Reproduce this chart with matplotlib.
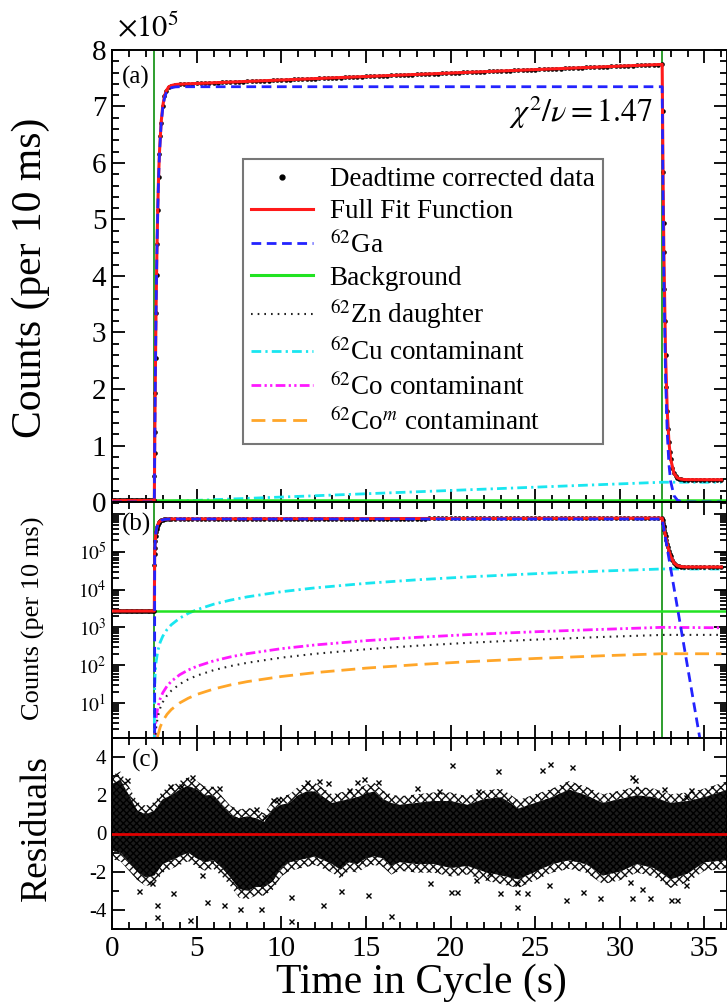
import numpy as np
import matplotlib
matplotlib.use("Agg")
import matplotlib.pyplot as plt
from matplotlib.lines import Line2D
from matplotlib.ticker import MultipleLocator, FixedLocator, FuncFormatter, LogLocator, NullFormatter

plt.rcParams["font.family"] = ["Liberation Serif", "DejaVu Serif"]
plt.rcParams["mathtext.fontset"] = "stix"
plt.rcParams["axes.unicode_minus"] = False
plt.rcParams["lines.scale_dashes"] = False
plt.rcParams["hatch.linewidth"] = 1.0

# ---------------- fit components (counts per 10 ms) ----------------
t_fit = [0, 2.5, 2.52, 2.55, 2.6, 2.65, 2.7, 2.75, 2.8, 2.9, 3.0, 3.1, 3.2, 3.35, 3.5, 3.75, 4.0,
         6, 10, 15, 20, 25, 32.5, 32.55, 32.6, 32.7, 32.8, 32.9, 33.0, 33.2, 33.4, 33.6, 33.8,
         34.0, 34.5, 35, 36]
fit_total = [2.7e3, 2.7e3, 8.59e4, 1.933e5, 3.347e5, 4.391e5, 5.164e5, 5.745e5, 6.168e5, 6.710e5,
             7.012e5, 7.183e5, 7.276e5, 7.347e5, 7.371e5, 7.389e5, 7.395e5, 7.420e5, 7.469e5,
             7.531e5, 7.592e5, 7.653e5, 7.745e5, 5.841e5, 4.430e5, 2.607e5, 1.608e5, 1.062e5,
             7.61e4, 5.05e4, 4.28e4, 4.05e4, 3.98e4, 3.96e4, 3.95e4, 3.945e4, 3.94e4]
ga62 = [0, 0, 8.32e4, 1.905e5, 3.319e5, 4.362e5, 5.134e5, 5.715e5, 6.137e5, 6.678e5, 6.979e5,
        7.149e5, 7.240e5, 7.310e5, 7.332e5, 7.347e5, 7.35e5, 7.35e5, 7.35e5, 7.35e5, 7.35e5,
        7.35e5, 7.35e5, 5.446e5, 4.035e5, 2.212e5, 1.213e5, 6.67e4, 3.66e4, 1.10e4, 3.32e3,
        1.00e3, 301, 90.6, 4.5, 0.225, 0.0005]

background = 2.7e3

t_comp = [0, 2.5, 2.5005, 2.502, 2.505, 2.51, 2.52, 2.55, 2.6, 2.7, 2.85, 3.0, 3.25, 3.5, 4.0,
          4.5, 5, 6, 7, 8, 10, 12, 15, 18, 21, 25, 29, 32.5, 33, 34, 35, 36]
cu62 = [0, 0, 0.58, 2.33, 5.8, 11.7, 23.3, 58, 117, 233, 408, 583, 875, 1167, 1750, 2333, 2917,
        4083, 5250, 6417, 8750, 11083, 14583, 18083, 21583, 26250, 30917, 35000, 34990, 34970,
        34950, 34930]
zn62 = [0, 0, 0.0105, 0.042, 0.105, 0.21, 0.42, 1.05, 2.1, 4.2, 7.35, 10.5, 15.75, 21, 31.5, 42,
        52.5, 73.5, 94.5, 115.5, 157.5, 199.5, 262.5, 325.5, 388.5, 472.5, 556.5, 630, 630.5,
        631, 631, 631]
co62 = [0, 0, 0.0187, 0.0746, 0.187, 0.373, 0.746, 1.87, 3.73, 7.46, 13.0, 18.6, 27.9, 37.2, 55.7,
        74.2, 92.6, 129.2, 165.5, 201.5, 272.5, 342, 444, 543, 640, 764, 885, 1000, 996, 989,
        981, 974]
co62m = [0, 0, 0.0033, 0.0133, 0.033, 0.067, 0.133, 0.333, 0.667, 1.33, 2.33, 3.33, 5.0, 6.67,
         10.0, 13.3, 16.7, 23.3, 30.0, 36.7, 50.0, 63.3, 83.3, 103, 123, 150, 177, 200, 200,
         199.9, 199.8, 199.7]

beam_on, beam_off = 2.5, 32.5

# ---------------- deadtime corrected data ----------------
t_pre = np.round(np.arange(0.0, 2.45, 0.1), 2)
v_pre = [2700, 2700, 2690, 2710, 2700, 2700, 2710, 2690, 2700, 2700, 2700, 2710, 2700, 2690,
         2700, 2700, 2710, 2700, 2700, 2690, 2700, 2710, 2700, 2700, 2700]
t_rise = [2.5, 2.51, 2.52, 2.53, 2.55, 2.57, 2.6, 2.63, 2.66, 2.7, 2.75, 2.8, 2.85, 2.9, 3.0,
          3.1, 3.2, 3.35, 3.5, 3.75]
v_rise = [2.7e3, 4.55e4, 8.59e4, 1.238e5, 1.933e5, 2.549e5, 3.347e5, 4.01e5, 4.565e5, 5.164e5,
          5.745e5, 6.168e5, 6.481e5, 6.710e5, 7.012e5, 7.183e5, 7.276e5, 7.347e5, 7.371e5,
          7.389e5]
t_plat = np.round(np.arange(4.0, 32.51, 0.25), 2)
v_plat_k = [739.6, 739.9, 740.2, 740.5, 740.8, 741.1, 741.4, 741.7, 742.1, 742.4, 742.7, 743.0,
            743.3, 743.6, 743.9, 744.2, 744.5, 744.8, 745.1, 745.4, 745.7, 746.0, 746.4, 746.7,
            747.0, 747.3, 747.6, 747.9, 748.2, 748.5, 748.8, 749.1, 749.4, 749.7, 750.0, 750.3,
            750.7, 751.0, 751.3, 751.6, 751.9, 752.2, 752.5, 752.8, 753.1, 753.4, 753.7, 754.0,
            754.3, 754.6, 755.0, 755.3, 755.6, 755.9, 756.2, 756.5, 756.8, 757.1, 757.4, 757.7,
            758.0, 758.3, 758.6, 758.9, 759.2, 759.6, 759.9, 760.2, 760.5, 760.8, 761.1, 761.4,
            761.7, 762.0, 762.3, 762.6, 762.9, 763.2, 763.5, 763.9, 764.2, 764.5, 764.8, 765.1,
            765.4, 765.7, 766.0, 766.3, 766.6, 766.9, 767.2, 767.5, 767.8, 768.2, 768.5, 768.8,
            769.1, 769.4, 769.7, 770.0, 770.3, 770.6, 770.9, 771.2, 771.5, 771.8, 772.1, 772.5,
            772.8, 773.1, 773.4, 773.7, 774.0, 774.3, 774.6]
t_fall = [32.52, 32.55, 32.58, 32.6, 32.63, 32.66, 32.7, 32.75, 32.8, 32.85, 32.9, 32.95, 33.0,
          33.1, 33.2, 33.3, 33.4, 33.5, 33.6, 33.8, 34.0, 34.25, 34.5, 34.75, 35.0, 35.25, 35.5,
          35.75, 36.0]
v_fall = [6.914e5, 5.841e5, 4.943e5, 4.430e5, 3.764e5, 3.209e5, 2.607e5, 2.035e5, 1.608e5,
          1.295e5, 1.062e5, 8.89e4, 7.61e4, 5.96e4, 5.05e4, 4.56e4, 4.28e4, 4.13e4, 4.05e4,
          3.98e4, 3.96e4, 3.95e4, 3.95e4, 3.948e4, 3.945e4, 3.943e4, 3.942e4, 3.94e4, 3.94e4]

data_t = np.concatenate([t_pre, t_rise, t_plat, t_fall])
data_v = np.concatenate([v_pre, v_rise, np.array(v_plat_k) * 1e3, v_fall])

# ---------------- residuals ----------------
# dense core of the residual scatter (lower / upper edge) and isolated points
res_t = [0, 0.5, 1, 1.5, 2, 2.5, 3, 3.5, 4, 4.5, 5, 5.5, 6, 6.5, 7, 7.5, 8, 8.5, 9, 9.5, 10,
         10.5, 11, 11.5, 12, 12.5, 13, 13.5, 14, 14.5, 15, 15.5, 16, 16.5, 17, 18, 19, 20, 21,
         22, 23, 24, 25, 26, 27, 28, 29, 30, 31, 32, 33, 34, 35, 36.4]
res_upper = [2.6, 2.8, 2.0, 1.2, 1.0, 1.2, 1.8, 2.0, 2.3, 2.5, 2.3, 2.0, 2.0, 1.5, 1.0, 0.8, 0.9,
             0.8, 0.6, 1.3, 1.5, 1.6, 2.0, 2.2, 2.2, 1.9, 1.6, 1.7, 1.8, 1.9, 2.1, 2.2, 1.8, 1.6,
             1.5, 1.6, 1.7, 1.7, 1.5, 1.8, 1.9, 1.3, 1.6, 1.9, 2.3, 2.0, 1.6, 1.8, 2.0, 1.9, 1.6,
             1.7, 1.9, 2.3]
res_lower = [-0.9, -1.0, -1.5, -2.0, -2.3, -2.2, -1.6, -1.4, -1.2, -1.0, -1.3, -1.5, -1.4, -1.8,
             -2.3, -2.9, -3.0, -2.8, -2.8, -2.5, -1.8, -1.5, -1.4, -1.3, -1.2, -1.4, -1.6, -1.9,
             -1.5, -1.6, -1.3, -1.2, -1.3, -1.7, -1.5, -1.6, -1.6, -1.8, -1.7, -2.0, -2.2, -2.4,
             -2.0, -1.6, -1.4, -1.6, -2.2, -2.0, -1.6, -1.8, -2.4, -2.1, -1.5, -1.4]
out_t = [0.9, 1.57, 2.35, 2.65, 2.65, 3.4, 3.6, 4.1, 4.6, 4.75, 5.3, 5.6, 6.3, 6.6, 7.55, 8.5,
         8.8, 9.0, 9.5, 9.8, 10.6, 10.6, 11.5, 12.25, 12.45, 12.75, 13.5, 14.0, 14.5, 14.9, 15.1,
         15.7, 16.5, 18.0, 18.8, 19.3, 20.0, 20.1, 20.4, 21.5, 21.6, 22.3, 22.8, 22.9, 23.9, 23.9,
         23.9, 24.5, 25.4, 25.8, 25.9, 26.8, 27.2, 27.8, 28.8, 30.6, 30.7, 30.7, 30.9, 31.3, 31.8,
         32.6, 33.0, 33.4, 33.9, 33.9, 34.2]
out_r = [2.8, -3.0, -2.57, -3.74, -4.35, 2.5, -3.1, 2.5, -4.55, 2.95, -2.17, -3.57, 2.4, -3.74,
         -3.97, 1.3, -3.97, 0.87, 1.77, 1.83, -3.3, -4.57, 2.7, 2.73, -3.74, 2.64, -3.0, 2.3, 2.7,
         2.87, -3.2, 2.7, -4.3, 2.4, -2.6, 2.2, -3.04, 3.57, -3.04, -2.43, 2.2, -2.09, 3.27, -3.1,
         -3.83, -3.04, -2.6, -3.13, 3.3, -2.7, 3.65, -3.48, 3.48, -3.04, -3.39, -2.52, -3.39, 2.96,
         2.78, -2.92, -3.36, 2.35, -3.48, -3.48, 1.9, -2.7, 2.26]

# ---------------- styles ----------------
C_RED, C_BLUE, C_LIME, C_VGREEN = "#ff1a1a", "#2323ff", "#22e322", "#2e9e2e"
C_CYAN, C_MAG, C_ORANGE = "#19e6f0", "#ff19ff", "#ffa629"
LS_BLUE = (0, (7, 4))
LS_ZN = (0, (1.2, 3.6))
LS_CU = (0, (7, 3, 1.6, 3))
LS_CO = (0, (7, 2.4, 1.6, 2.4, 1.6, 2.4))
LS_COM = (0, (10, 5))

fig = plt.figure(figsize=(7.27, 10.07), dpi=100)
W, H = 727.0, 1007.0
x_left, x_right = 112, 727


def rect(top, bottom):
    return [x_left / W, 1 - bottom / H, (x_right - x_left) / W, (bottom - top) / H]


axA = fig.add_axes(rect(50, 502))
axB = fig.add_axes(rect(502, 738), sharex=axA)
axC = fig.add_axes(rect(738, 929), sharex=axA)

XMAX = 36.33


def draw_counts(ax):
    for tv in (beam_on, beam_off):
        ax.axvline(tv, color=C_VGREEN, lw=1.4, zorder=1)
    ax.plot(t_comp, co62m, color=C_ORANGE, ls=LS_COM, lw=2.0, zorder=2)
    ax.plot(t_comp, co62, color=C_MAG, ls=LS_CO, lw=2.0, zorder=2)
    ax.plot(t_comp, cu62, color=C_CYAN, ls=LS_CU, lw=2.0, zorder=2)
    ax.plot(t_comp, zn62, color="#222222", ls=LS_ZN, lw=1.5, zorder=2)
    ax.axhline(background, color=C_LIME, lw=1.8, zorder=2)
    ax.plot(data_t, data_v, ls="none", marker="o", ms=3.3, mfc="black", mec="black",
            mew=0, zorder=3)
    ax.plot(t_fit, fit_total, color=C_RED, lw=2.2, zorder=4)
    ax.plot(t_fit, ga62, color=C_BLUE, ls=LS_BLUE, lw=2.0, zorder=5)


draw_counts(axA)
draw_counts(axB)

axA.set_xlim(0, XMAX)
axA.set_ylim(0, 8e5)
axB.set_yscale("log")
axB.set_ylim(1.18, 2.07e6)
axC.set_ylim(-5, 5)

# residual scatter: dense textured core, lighter cross-textured fringe, isolated points
res_up = np.array(res_upper)
res_lo = np.array(res_lower)
axC.fill_between(res_t, res_lo, res_up, facecolor="#1c1c1c", edgecolor="#000000",
                 hatch="xxxxx", lw=0, zorder=2)
axC.fill_between(res_t, res_up, res_up + 0.45, facecolor="none", edgecolor="#111111",
                 hatch="xxxx", lw=0, zorder=2)
axC.fill_between(res_t, res_lo - 0.45, res_lo, facecolor="none", edgecolor="#111111",
                 hatch="xxxx", lw=0, zorder=2)
axC.plot(out_t, out_r, ls="none", marker="x", ms=3.6, mew=1.0, color="black", zorder=3)
axC.axhline(0, color="#e00000", lw=2.0, zorder=4)

# ---------------- ticks ----------------
for ax in (axA, axB, axC):
    ax.xaxis.set_major_locator(MultipleLocator(5))
    ax.xaxis.set_minor_locator(MultipleLocator(1))
    ax.tick_params(which="both", direction="in", top=True, right=True, width=1.3)
    ax.tick_params(which="major", length=9.5)
    ax.tick_params(which="minor", length=5)
    for sp in ax.spines.values():
        sp.set_linewidth(1.4)

axA.tick_params(labelbottom=False)
axB.tick_params(labelbottom=False)
axC.tick_params(axis="x", labelsize=21, pad=5)

axA.yaxis.set_major_locator(MultipleLocator(1e5))
axA.yaxis.set_minor_locator(MultipleLocator(2e4))
axA.yaxis.set_major_formatter(FuncFormatter(lambda v, p: f"{v / 1e5:.0f}"))
axA.tick_params(axis="y", labelsize=21, pad=4)

axB.yaxis.set_major_locator(FixedLocator([1e1, 1e2, 1e3, 1e4, 1e5, 1e6]))
axB.yaxis.set_minor_locator(LogLocator(base=10, subs=np.arange(2, 10), numticks=20))
axB.yaxis.set_minor_formatter(NullFormatter())
axB.yaxis.set_major_formatter(
    FuncFormatter(lambda v, p: "" if v > 2e5 else r"$10^{%d}$" % round(np.log10(v))))
axB.tick_params(axis="y", labelsize=14, pad=4)

axC.yaxis.set_major_locator(FixedLocator([-4, -2, 0, 2, 4]))
axC.yaxis.set_minor_locator(MultipleLocator(1))
axC.yaxis.set_major_formatter(FuncFormatter(lambda v, p: f"{v:.0f}"))
axC.tick_params(axis="y", labelsize=15, pad=4)

# ---------------- text ----------------
axA.text(0.008, 1.012, r"$\times10^5$", transform=axA.transAxes, fontsize=22,
         ha="left", va="bottom")
axA.text(0.016, 0.94, "(a)", transform=axA.transAxes, fontsize=18, ha="left", va="center")
axB.text(0.016, 0.905, "(b)", transform=axB.transAxes, fontsize=18, ha="left", va="center")
axC.text(0.032, 0.885, "(c)", transform=axC.transAxes, fontsize=18, ha="left", va="center")
axA.text(31.95, 6.72e5, r"$\chi^2/\nu = 1.47$", fontsize=23, ha="right", va="baseline")

fig.text(31 / W, 1 - 278 / H, "Counts (per 10 ms)", rotation=90, fontsize=30,
         ha="center", va="center")
fig.text(33 / W, 1 - 618 / H, "Counts (per 10 ms)", rotation=90, fontsize=19,
         ha="center", va="center")
fig.text(37 / W, 1 - 828 / H, "Residuals", rotation=90, fontsize=27,
         ha="center", va="center")
fig.text(421 / W, 1 - 983 / H, "Time in Cycle (s)", fontsize=30, ha="center", va="center")

# ---------------- legend ----------------
handles = [
    Line2D([], [], ls="none", marker="o", ms=3.5, color="black"),
    Line2D([], [], color=C_RED, lw=2.2),
    Line2D([], [], color=C_BLUE, ls=LS_BLUE, lw=2.0),
    Line2D([], [], color=C_LIME, lw=2.2),
    Line2D([], [], color="#222222", ls=LS_ZN, lw=1.5),
    Line2D([], [], color=C_CYAN, ls=LS_CU, lw=2.0),
    Line2D([], [], color=C_MAG, ls=LS_CO, lw=2.0),
    Line2D([], [], color=C_ORANGE, ls=LS_COM, lw=2.0),
]
labels = [
    "Deadtime corrected data",
    "Full Fit Function",
    r"$^{62}$Ga",
    "Background",
    r"$^{62}$Zn daughter",
    r"$^{62}$Cu contaminant",
    r"$^{62}$Co contaminant",
    r"$^{62}$Co$^{m}$ contaminant",
]
leg = axA.legend(handles, labels, loc="upper left", bbox_to_anchor=(0.213, 0.759),
                 fontsize=19.5, frameon=True, fancybox=False, edgecolor="#777777",
                 framealpha=1, handlelength=2.3, handletextpad=0.6, labelspacing=0.26,
                 borderpad=0.3, borderaxespad=0)
leg.get_frame().set_linewidth(1.5)
leg.set_zorder(10)

fig.savefig("out.png", dpi=100)
